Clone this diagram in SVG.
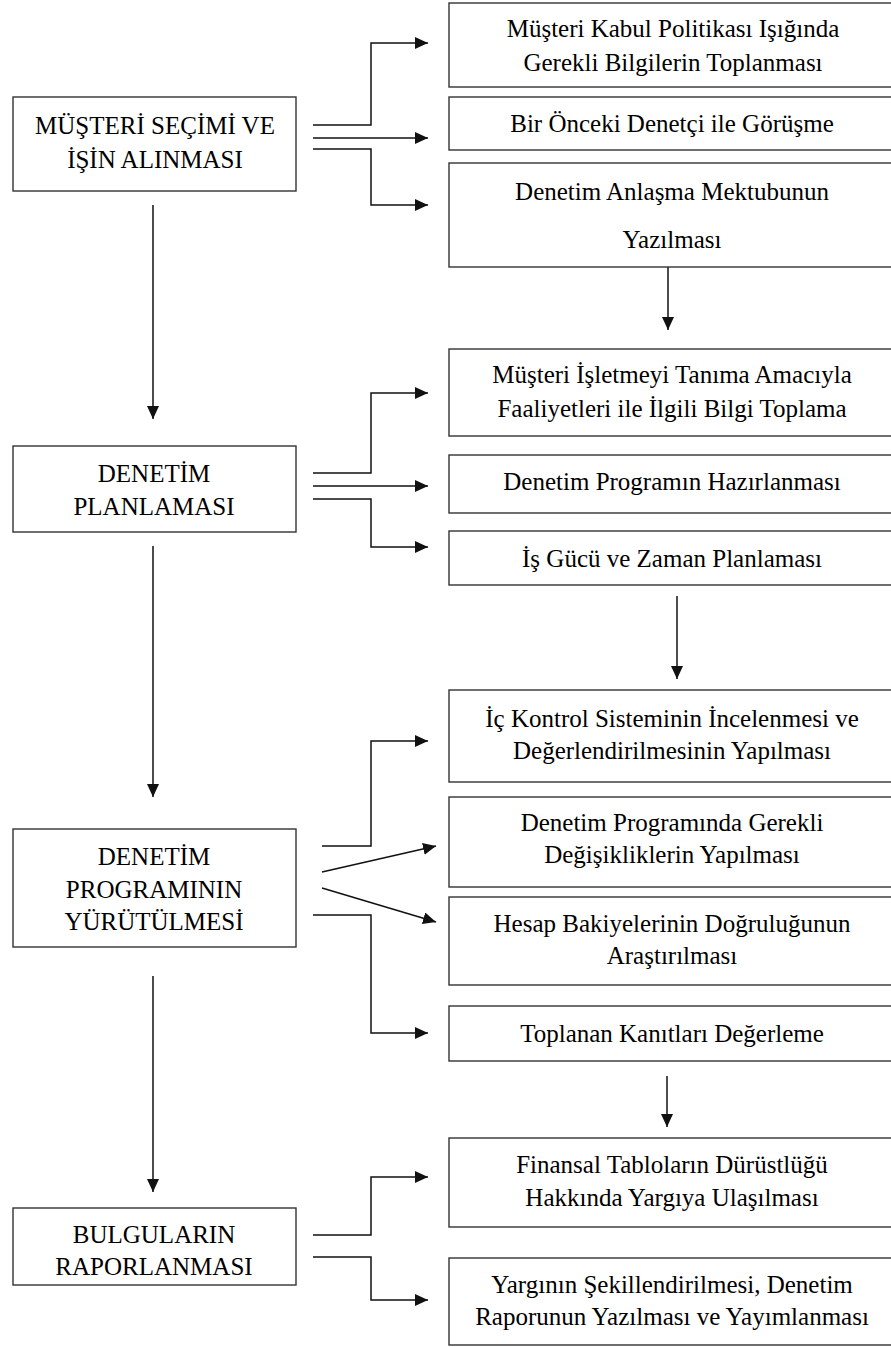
<svg xmlns="http://www.w3.org/2000/svg" width="891" height="1347" viewBox="0 0 891 1347">
<defs>
<marker id="ah" markerWidth="14" markerHeight="12" refX="13" refY="6" orient="auto" markerUnits="userSpaceOnUse">
<path d="M0,0 L13,6 L0,12 Z" fill="#111"/>
</marker>
</defs>
<rect width="891" height="1347" fill="#fff"/>
<g id="connectors" fill="none" stroke="#111" stroke-width="1.5" marker-end="url(#ah)">
<path d="M313,125 H371 V43 H428"/>
<path d="M313,138 H428"/>
<path d="M313,149 H371 V205 H428"/>
<path d="M313,473 H371 V393 H428"/>
<path d="M313,486 H428"/>
<path d="M313,499 H371 V547 H428"/>
<path d="M322,846 H371 V741 H428"/>
<path d="M322,872 L436,846"/>
<path d="M322,888 L436,922"/>
<path d="M313,915 H371 V1033 H428"/>
<path d="M313,1235 H371 V1177 H428"/>
<path d="M313,1257 H371 V1300 H428"/>
<path d="M153,205 V419"/>
<path d="M153,546 V797"/>
<path d="M153,976 V1192"/>
<path d="M668,267 V330"/>
<path d="M677,596 V679"/>
<path d="M667,1076 V1127"/>
</g>
<g fill="#fff" stroke="#333" stroke-width="1.4">
<rect x="13" y="97" width="283" height="94"/>
<rect x="13" y="446" width="283" height="86"/>
<rect x="13" y="829" width="283" height="118"/>
<rect x="13" y="1208" width="283" height="77"/>
<rect x="449" y="3" width="450" height="84"/>
<rect x="449" y="97" width="450" height="53"/>
<rect x="449" y="163" width="450" height="104"/>
<rect x="449" y="349" width="450" height="87"/>
<rect x="449" y="455" width="450" height="58"/>
<rect x="449" y="531" width="450" height="54"/>
<rect x="449" y="690" width="450" height="92"/>
<rect x="449" y="797" width="450" height="90"/>
<rect x="449" y="897" width="450" height="88"/>
<rect x="449" y="1006" width="450" height="55"/>
<rect x="449" y="1138" width="450" height="89"/>
<rect x="449" y="1258" width="450" height="87"/>
</g>
<g font-family="Times New Roman" font-size="25" text-anchor="middle">
<g id="n1"><text x="155" y="134">MÜŞTERİ SEÇİMİ VE</text><text x="155" y="168">İŞİN ALINMASI</text></g>
<g id="n2"><text x="154" y="482">DENETİM</text><text x="154" y="515">PLANLAMASI</text></g>
<g id="n3"><text x="154" y="865">DENETİM</text><text x="154" y="898">PROGRAMININ</text><text x="154" y="930">YÜRÜTÜLMESİ</text></g>
<g id="n4"><text x="154" y="1243">BULGULARIN</text><text x="154" y="1275">RAPORLANMASI</text></g>
<g id="r1"><text x="673" y="37">Müşteri Kabul Politikası Işığında</text><text x="673" y="71">Gerekli Bilgilerin Toplanması</text></g>
<g id="r2"><text x="672" y="132">Bir Önceki Denetçi ile Görüşme</text></g>
<g id="r3"><text x="672" y="200">Denetim Anlaşma Mektubunun</text><text x="672" y="248">Yazılması</text></g>
<g id="r4"><text x="672" y="383">Müşteri İşletmeyi Tanıma Amacıyla</text><text x="672" y="417">Faaliyetleri ile İlgili Bilgi Toplama</text></g>
<g id="r5"><text x="672" y="490">Denetim Programın Hazırlanması</text></g>
<g id="r6"><text x="672" y="567">İş Gücü ve Zaman Planlaması</text></g>
<g id="r7"><text x="672" y="727">İç Kontrol Sisteminin İncelenmesi ve</text><text x="672" y="759">Değerlendirilmesinin Yapılması</text></g>
<g id="r8"><text x="672" y="831">Denetim Programında Gerekli</text><text x="672" y="863">Değişikliklerin Yapılması</text></g>
<g id="r9"><text x="672" y="932">Hesap Bakiyelerinin Doğruluğunun</text><text x="672" y="964">Araştırılması</text></g>
<g id="r10"><text x="672" y="1042">Toplanan Kanıtları Değerleme</text></g>
<g id="r11"><text x="672" y="1173">Finansal Tabloların Dürüstlüğü</text><text x="672" y="1206">Hakkında Yargıya Ulaşılması</text></g>
<g id="r12"><text x="672" y="1293">Yargının Şekillendirilmesi, Denetim</text><text x="672" y="1325">Raporunun Yazılması ve Yayımlanması</text></g>
</g>
</svg>
